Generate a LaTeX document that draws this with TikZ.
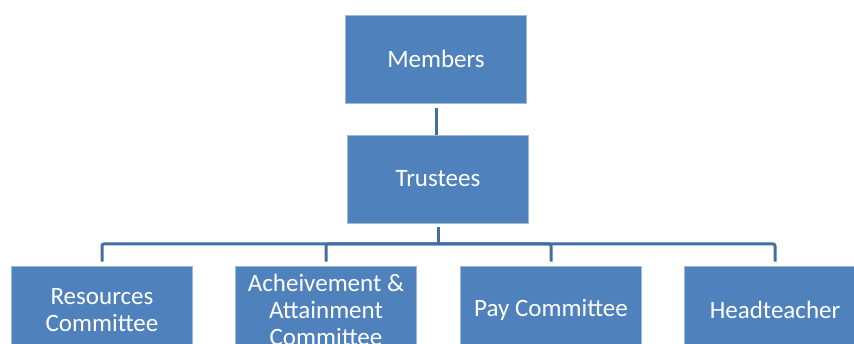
\documentclass[tikz,border=0pt]{standalone}
\usepackage{fontspec}
\setmainfont{Carlito}

\definecolor{boxblue}{HTML}{4F81BD}
\definecolor{linkblue}{HTML}{41709F}

\tikzset{
    orgbox/.style={draw=boxblue!55!white, line width=0.8pt, fill=boxblue, text=white,
        minimum width=181pt, minimum height=88pt, align=center,
        font=\fontsize{25}{27}\selectfont},
    link/.style={draw=linkblue, line width=3pt}
}

\begin{document}
\begin{tikzpicture}[x=1pt, y=-1pt]
    % Page frame
    \useasboundingbox (0,0) rectangle (854,344);
    \clip (0,0) rectangle (854,344);

    % Top of the chart
    \node[orgbox] (members) at (436,59) {Members};
    \node[orgbox] (trustees) at (438,179) {Trustees};

    % Committees row
    \node[orgbox] (resources) at (102,310) {Resources\\Committee};
    \node[orgbox] (achieve) at (326,310) {Acheivement \&\\Attainment\\Committee};
    \node[orgbox] (pay) at (551,310) {Pay Committee};
    \node[orgbox] (head) at (775,310) {Headteacher};

    % Connectors
    \coordinate (bar) at (438,244);
    \draw[link, shorten <=5pt] (members.south) -- (members.south |- trustees.north);
    \draw[link, shorten <=4pt] (trustees.south) -- (bar);

    \foreach \n in {resources, achieve, pay, head} {
        \draw[link, shorten >=4pt, rounded corners=2pt] (bar) -| (\n.north);
    }
\end{tikzpicture}
\end{document}
